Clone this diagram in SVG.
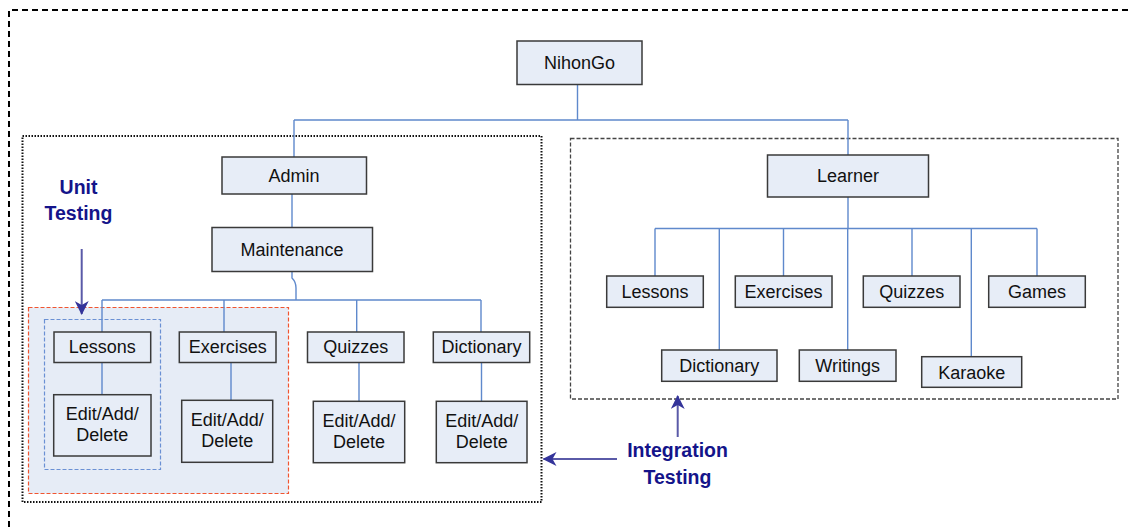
<svg xmlns="http://www.w3.org/2000/svg" width="1130" height="527" viewBox="0 0 1130 527">
  <defs>
    <style>
      .node rect { fill: #e7edf7; stroke: #3a3a3a; stroke-width: 1.5; }
      .node text { font-family: "Liberation Sans", Arial, sans-serif; font-size: 18px; fill: #111; text-anchor: middle; }
      .conn { fill: none; stroke: #5f89cc; stroke-width: 1.4; }
      .label { font-family: "Liberation Sans", Arial, sans-serif; font-size: 19.5px; font-weight: bold; fill: #14148a; text-anchor: middle; }
      .pointer { fill: none; stroke: #5a5aa8; stroke-width: 2; }
    </style>
    <marker id="head" viewBox="0 0 14 14" refX="13" refY="7" markerWidth="14" markerHeight="14" markerUnits="userSpaceOnUse" orient="auto">
      <path d="M0,0 L14,7 L0,14 L4,7 Z" fill="#34349a"/>
    </marker>
  </defs>

  <!-- outer frame -->
  <path d="M9,527 L9,10 L1130,10" fill="none" stroke="#000" stroke-width="2" stroke-dasharray="6,4"/>

  <!-- admin region (dotted) -->
  <rect x="22.5" y="136" width="519" height="366" fill="none" stroke="#111" stroke-width="2" stroke-dasharray="1.5,1.5"/>

  <!-- learner region (dashed) -->
  <rect x="570.5" y="138.5" width="547.5" height="260.5" fill="none" stroke="#444" stroke-width="1.3" stroke-dasharray="4,2"/>

  <!-- unit-test scope -->
  <rect x="28.5" y="307.5" width="260" height="186" fill="#e6ecf6" stroke="#f05530" stroke-width="1.2" stroke-dasharray="4,2"/>
  <rect x="44.5" y="319.5" width="116" height="150" fill="none" stroke="#6a90d4" stroke-width="1.2" stroke-dasharray="4,2"/>

  <!-- connectors -->
  <g id="connectors">
    <path class="conn" d="M577.5,84 L577.5,120 M294,120 L848,120 M294,120 L294,157 M848,120 L848,155"/>
    <path class="conn" d="M292,194 L292,227.5"/>
    <path class="conn" d="M292,272 L292,278 Q296,282 296,288 L296,300"/>
    <path class="conn" d="M102,300 L481,300 M102,300 L102,332 M224,300 L224,332 M356.7,300 L356.7,332 M481,300 L481,332"/>
    <path class="conn" d="M102,362 L102,395 M231,362 L231,400 M359,362 L359,401 M481.5,362 L481.5,401"/>
    <path class="conn" d="M848,197 L848,228.5 M655,228.5 L1037,228.5"/>
    <path class="conn" d="M655,228.5 L655,276 M783.5,228.5 L783.5,276 M912,228.5 L912,276 M1037,228.5 L1037,276"/>
    <path class="conn" d="M719.3,228.5 L719.3,350 M847.7,228.5 L847.7,350 M971.3,228.5 L971.3,356.7"/>
  </g>

  <!-- top -->
  <g id="nihongo" class="node">
    <rect x="517" y="41" width="125" height="43.5"/>
    <text x="579.5" y="68.5">NihonGo</text>
  </g>

  <!-- admin branch -->
  <g id="admin" class="node">
    <rect x="222" y="157" width="144.5" height="37"/>
    <text x="294" y="181.5">Admin</text>
  </g>
  <g id="maintenance" class="node">
    <rect x="212" y="227.5" width="160.5" height="44"/>
    <text x="292" y="255.5">Maintenance</text>
  </g>
  <g id="admin-lessons" class="node">
    <rect x="54" y="332" width="96.7" height="30.5"/>
    <text x="102.3" y="352.5">Lessons</text>
  </g>
  <g id="admin-exercises" class="node">
    <rect x="179.3" y="332" width="96.7" height="30.5"/>
    <text x="227.7" y="352.5">Exercises</text>
  </g>
  <g id="admin-quizzes" class="node">
    <rect x="307.5" y="332" width="96.5" height="30.5"/>
    <text x="355.7" y="352.5">Quizzes</text>
  </g>
  <g id="admin-dictionary" class="node">
    <rect x="433.3" y="332" width="96.4" height="30.5"/>
    <text x="481.5" y="352.5">Dictionary</text>
  </g>
  <g id="edit-lessons" class="node">
    <rect x="53.7" y="394.7" width="97.3" height="61.3"/>
    <text x="102.3" y="420">Edit/Add/</text>
    <text x="102.3" y="441">Delete</text>
  </g>
  <g id="edit-exercises" class="node">
    <rect x="181.7" y="400.3" width="91" height="62"/>
    <text x="227.2" y="426">Edit/Add/</text>
    <text x="227.2" y="447">Delete</text>
  </g>
  <g id="edit-quizzes" class="node">
    <rect x="313.3" y="401.3" width="91.4" height="61.4"/>
    <text x="359" y="427">Edit/Add/</text>
    <text x="359" y="448">Delete</text>
  </g>
  <g id="edit-dictionary" class="node">
    <rect x="436.3" y="401.3" width="90.7" height="61.4"/>
    <text x="481.7" y="427">Edit/Add/</text>
    <text x="481.7" y="448">Delete</text>
  </g>

  <!-- learner branch -->
  <g id="learner" class="node">
    <rect x="767.5" y="155" width="161" height="42"/>
    <text x="848" y="182">Learner</text>
  </g>
  <g id="learner-lessons" class="node">
    <rect x="606.7" y="276" width="96.6" height="31.3"/>
    <text x="655" y="298">Lessons</text>
  </g>
  <g id="learner-exercises" class="node">
    <rect x="735.3" y="276" width="96.7" height="31.3"/>
    <text x="783.6" y="298">Exercises</text>
  </g>
  <g id="learner-quizzes" class="node">
    <rect x="863.3" y="276" width="96.7" height="31.3"/>
    <text x="911.7" y="298">Quizzes</text>
  </g>
  <g id="learner-games" class="node">
    <rect x="988.7" y="276" width="96.6" height="31.3"/>
    <text x="1037" y="298">Games</text>
  </g>
  <g id="learner-dictionary" class="node">
    <rect x="661.7" y="350" width="115.3" height="31.3"/>
    <text x="719.3" y="372">Dictionary</text>
  </g>
  <g id="learner-writings" class="node">
    <rect x="799.3" y="350" width="96.7" height="31.3"/>
    <text x="847.7" y="372">Writings</text>
  </g>
  <g id="learner-karaoke" class="node">
    <rect x="921.7" y="356.7" width="100" height="30.6"/>
    <text x="971.7" y="378.5">Karaoke</text>
  </g>

  <!-- test annotations -->
  <g id="unit-testing">
    <text class="label" x="78.5" y="193.5">Unit</text>
    <text class="label" x="78.5" y="220">Testing</text>
    <path class="pointer" d="M81.7,249 L81.7,314" marker-end="url(#head)"/>
  </g>
  <g id="integration-testing">
    <text class="label" x="677.5" y="456.7">Integration</text>
    <text class="label" x="677.5" y="484">Testing</text>
    <path class="pointer" d="M617,459 L543.5,459" marker-end="url(#head)"/>
    <path class="pointer" d="M677.7,437 L677.7,396" marker-end="url(#head)"/>
  </g>
</svg>
